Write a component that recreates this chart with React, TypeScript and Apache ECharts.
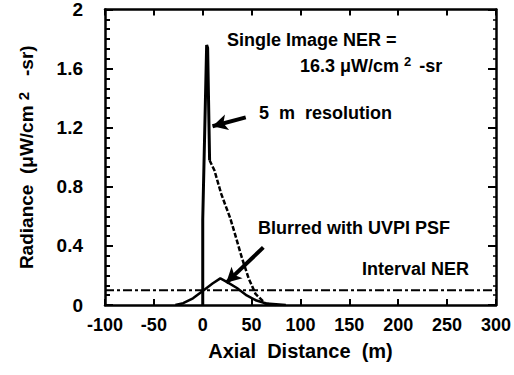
import React, { useEffect, useRef } from "react";
import * as echarts from "echarts";

const xTicks = [-100, -50, 0, 50, 100, 150, 200, 250, 300];
const yTicks = [0, 0.4, 0.8, 1.2, 1.6, 2];

// "5 m resolution" profile (Axial distance m, Radiance); first points form the spike
const fiveMX = [0, 0, 4, 5, 7, 12, 19, 28, 33, 40, 47, 54, 64, 75];
const fiveMY = [0, 0.58, 1.76, 1.74, 0.98, 0.91, 0.75, 0.59, 0.48, 0.32, 0.18, 0.075, 0.01, 0];
const spikeEnd = 5;

// "Blurred with UVPI PSF" profile
const blurX = [-28, -20, -10, 0, 10, 18, 25, 35, 45, 55, 65, 85];
const blurY = [0, 0.012, 0.045, 0.095, 0.145, 0.18, 0.155, 0.115, 0.065, 0.03, 0.01, 0];

// Interval NER level
const nerX = [-100, 300];
const nerY = [0.1, 0.1];

const FONT = "'Liberation Sans', Arial, sans-serif";

export default function App() {
  const ref = useRef<HTMLDivElement>(null);
  useEffect(() => {
    if (!ref.current) return;
    const chart = echarts.init(ref.current, undefined, { renderer: "svg" });
    const black = "#000";
    const pairs = (xs: number[], ys: number[]) => xs.map((x, i) => [x, ys[i]]);
    const xLabel = { color: black, fontFamily: FONT, fontWeight: "bold" as const, fontSize: 18 };
    const yLabel = { color: black, fontFamily: FONT, fontWeight: "bold" as const, fontSize: 19 };
    const axisLine = { show: true, onZero: false, lineStyle: { color: black, width: 2.5 } };
    const tick = { show: true, inside: true, length: 6, lineStyle: { color: black, width: 2 } };
    chart.setOption({
      animation: false,
      backgroundColor: "#fff",
      grid: { left: 105, right: 18, top: 8, bottom: 70, containLabel: false },
      xAxis: [
        {
          type: "value",
          min: xTicks[0],
          max: xTicks[xTicks.length - 1],
          interval: 50,
          position: "bottom",
          axisLine,
          axisTick: tick,
          splitLine: { show: false },
          axisLabel: { ...xLabel, margin: 11 },
          name: "Axial  Distance  (m)",
          nameLocation: "middle",
          nameGap: 36,
          nameTextStyle: { color: black, fontFamily: FONT, fontWeight: "bold", fontSize: 20, verticalAlign: "top" },
        },
        {
          type: "value",
          min: xTicks[0],
          max: xTicks[xTicks.length - 1],
          interval: 50,
          position: "top",
          axisLine,
          axisTick: tick,
          splitLine: { show: false },
          axisLabel: { show: false },
        },
      ],
      yAxis: [
        {
          type: "value",
          min: yTicks[0],
          max: yTicks[yTicks.length - 1],
          interval: 0.4,
          position: "left",
          axisLine,
          axisTick: { ...tick, length: 8 },
          minorTick: { show: true, splitNumber: 6, length: 5, lineStyle: { color: black, width: 2 } },
          splitLine: { show: false },
          axisLabel: {
            ...yLabel,
            margin: 22,
            formatter: (v: number) => String(Number(v.toFixed(1))),
          },
          name: "{t|Radiance  (μW/cm }{s|2}{t|   -sr)}",
          nameLocation: "middle",
          nameGap: 68,
          nameRotate: 90,
          nameTextStyle: {
            rich: {
              t: { color: black, fontFamily: FONT, fontWeight: "bold", fontSize: 19 },
              s: { color: black, fontFamily: FONT, fontWeight: "bold", fontSize: 15, padding: [0, 0, 6, 0] },
            },
          },
        },
        {
          type: "value",
          min: yTicks[0],
          max: yTicks[yTicks.length - 1],
          interval: 0.4,
          position: "right",
          axisLine,
          axisTick: { ...tick, length: 8 },
          minorTick: { show: true, splitNumber: 6, length: 3, lineStyle: { color: black, width: 1.5 } },
          splitLine: { show: false },
          axisLabel: { show: false },
        },
      ],
      series: [
        {
          name: "Interval NER",
          type: "line",
          data: pairs(nerX, nerY),
          symbol: "none",
          lineStyle: { color: black, width: 2, type: [9, 3, 3, 3] },
        },
        {
          name: "Blurred with UVPI PSF",
          type: "line",
          data: pairs(blurX, blurY),
          symbol: "none",
          lineStyle: { color: black, width: 2.5 },
          markLine: {
            silent: true,
            symbol: ["none", "arrow"],
            symbolSize: [12, 15],
            label: { show: false },
            lineStyle: { color: black, width: 4, type: "solid" },
            data: [
              [{ coord: [62, 0.39] }, { coord: [24, 0.15] }],
              [{ coord: [44, 1.27] }, { coord: [10, 1.21] }],
            ],
          },
        },
        {
          name: "5 m resolution",
          type: "line",
          data: pairs(fiveMX, fiveMY).slice(0, spikeEnd),
          symbol: "none",
          lineStyle: { color: black, width: 3 },
        },
        {
          name: "5 m resolution tail",
          type: "line",
          data: pairs(fiveMX, fiveMY).slice(spikeEnd - 1),
          symbol: "none",
          lineStyle: { color: black, width: 2.5, type: [5, 2] },
        },
      ],
      graphic: [
        {
          type: "text",
          left: 227,
          top: 31,
          style: { text: "Single Image NER =", fill: black, font: `bold 18px ${FONT}` },
        },
        {
          type: "text",
          left: 300,
          top: 55,
          style: {
            text: "{t|16.3 μW/cm }{s|2}{t| -sr}",
            rich: {
              t: { fill: black, font: `bold 18px ${FONT}` },
              s: { fill: black, font: `bold 13px ${FONT}`, padding: [0, 3, 8, 0] },
            },
          },
        },
        {
          type: "text",
          left: 259,
          top: 104,
          style: { text: "5  m  resolution", fill: black, font: `bold 18px ${FONT}` },
        },
        {
          type: "text",
          left: 258,
          top: 219,
          style: { text: "Blurred with UVPI PSF", fill: black, font: `bold 18px ${FONT}` },
        },
        {
          type: "text",
          left: 362,
          top: 260,
          style: { text: "Interval NER", fill: black, font: `bold 18px ${FONT}` },
        },
      ],
    });
    return () => chart.dispose();
  }, []);
  return <div ref={ref} style={{ position: "fixed", left: 0, top: 0, width: 514, height: 375 }} />;
}
